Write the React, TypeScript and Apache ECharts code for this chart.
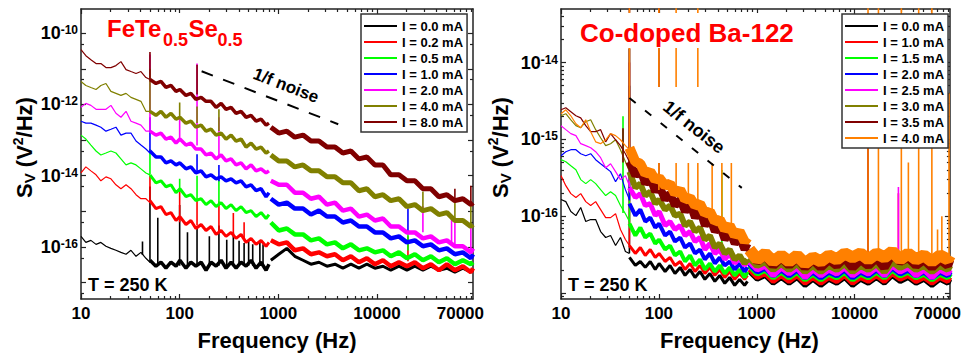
import React, { useEffect, useRef } from "react";
import * as echarts from "echarts";

// ---------- frequency grids (Hz) ----------
const F_LO = [10, 11.2, 12.6, 14.2, 15.9, 17.9, 20.1, 22.6, 25.4, 28.6, 32.1, 36.1, 40.5, 45.5, 50];
const F_MID = [50, 57.5, 64.6, 72.6, 81.6, 91.8, 100.6, 115.8, 130, 146, 165, 185, 208, 234, 263, 295, 332, 373, 419, 471, 529, 595, 668, 751, 804];
const F_HI = [840, 1010, 1220, 1470, 1780, 2140, 2580, 3110, 3750, 4510, 5440, 6560, 7900, 9520, 11500, 13800, 16700, 20100, 24200, 29200, 35200, 42400, 51100, 61600, 74200, 89400, 94000];

// ---------- FeTe0.5Se0.5 (left) S_V values, V^2/Hz ----------
const L00_LO = [1.99e-16, 1.35e-16, 1.54e-16, 1.19e-16, 1.35e-16, 1.05e-16, 9.2e-17, 8.1e-17, 7.1e-17, 6.26e-17, 8.1e-17, 5.5e-17, 7.1e-17, 4.84e-17, 3.75e-17];
const L00_MID = [4.26e-17, 2.9e-17, 3.75e-17, 2.55e-17, 3.75e-17, 2.9e-17, 4.26e-17, 2.55e-17, 3.75e-17, 2.9e-17, 3.75e-17, 2.24e-17, 3.75e-17, 2.9e-17, 4.26e-17, 2.55e-17, 3.75e-17, 2.55e-17, 3.75e-17, 2.9e-17, 4.26e-17, 2.55e-17, 3.75e-17, 2.24e-17, 3.3e-17];
const L00_HI = [4.26e-17, 6.26e-17, 9.2e-17, 5.5e-17, 4.26e-17, 3.3e-17, 3.75e-17, 2.9e-17, 3.3e-17, 2.55e-17, 3.3e-17, 2.55e-17, 3.3e-17, 2.55e-17, 2.9e-17, 2.24e-17, 2.9e-17, 2.24e-17, 2.9e-17, 2.24e-17, 2.9e-17, 2.24e-17, 2.55e-17, 1.97e-17, 2.55e-17, 1.97e-17, 2.24e-17];
const L00_SPK = [[42, 6e-17, 1.44e-16], [50, 3.7e-17, 5e-15], [60, 3e-17, 6.6e-16], [100, 3e-17, 1.5e-15], [120, 3e-17, 2.6e-16], [150, 3e-17, 3.3e-16], [200, 3e-17, 2e-16], [250, 3e-17, 4e-16], [300, 3e-17, 1.6e-16], [350, 3e-17, 2.5e-16], [400, 3e-17, 1.5e-16], [450, 3e-17, 1.3e-16], [500, 3e-17, 1.6e-16], [550, 3e-17, 1.2e-16], [650, 3e-17, 1.3e-16], [700, 3e-17, 1.2e-16]];

const L02_LO = [1.2e-14, 1.77e-14, 1.37e-14, 1.06e-14, 7.21e-15, 9.3e-15, 8.2e-15, 5.58e-15, 4.32e-15, 5.58e-15, 4.32e-15, 2.94e-15, 2.27e-15, 2.27e-15, 1.76e-15];
const L02_MID = [2.0e-15, 1.2e-15, 1.36e-15, 8.15e-16, 9.26e-16, 5.54e-16, 7.16e-16, 4.29e-16, 5.54e-16, 3.32e-16, 4.29e-16, 2.92e-16, 3.77e-16, 2.26e-16, 2.92e-16, 1.99e-16, 2.57e-16, 1.75e-16, 2.26e-16, 1.35e-16, 1.75e-16, 1.19e-16, 1.54e-16, 1.05e-16, 1.35e-16];
const L02_HI = [1.54e-16, 1.19e-16, 1.35e-16, 8.1e-17, 9.2e-17, 6.26e-17, 7.1e-17, 5.5e-17, 6.26e-17, 4.26e-17, 5.5e-17, 3.75e-17, 4.84e-17, 3.3e-17, 4.26e-17, 2.9e-17, 3.75e-17, 2.9e-17, 3.75e-17, 2.55e-17, 3.3e-17, 2.24e-17, 3.3e-17, 2.24e-17, 2.9e-17, 1.97e-17, 2.55e-17];
const L02_SPK = [[50, 1.8e-15, 1e-14], [100, 5e-16, 4.3e-15], [150, 4e-16, 2.3e-15], [250, 2.5e-16, 1.9e-15], [350, 2e-16, 9e-16], [450, 1.6e-16, 5e-16], [20600, 4e-17, 2e-16]];

const L05_LO = [1.38e-13, 1.07e-13, 7.26e-14, 4.94e-14, 3.82e-14, 4.34e-14, 4.94e-14, 4.34e-14, 2.96e-14, 2.01e-14, 2.29e-14, 2.01e-14, 1.56e-14, 1.2e-14, 1.06e-14];
const L05_MID = [1.06e-14, 6.34e-15, 7.21e-15, 4.91e-15, 5.58e-15, 3.34e-15, 4.32e-15, 2.58e-15, 2.94e-15, 2.0e-15, 2.27e-15, 1.55e-15, 2.0e-15, 1.36e-15, 1.76e-15, 1.2e-15, 1.55e-15, 1.05e-15, 1.36e-15, 9.26e-16, 1.05e-15, 7.16e-16, 9.26e-16, 6.3e-16, 8.15e-16];
const L05_HI = [4.88e-16, 2.92e-16, 3.32e-16, 2.26e-16, 2.26e-16, 1.54e-16, 1.75e-16, 1.19e-16, 1.35e-16, 9.2e-17, 1.19e-16, 8.1e-17, 9.2e-17, 7.1e-17, 8.1e-17, 5.5e-17, 7.1e-17, 4.84e-17, 6.26e-17, 4.26e-17, 5.5e-17, 3.75e-17, 4.84e-17, 3.3e-17, 4.26e-17, 3.3e-17, 3.75e-17];
const L05_SPK = [[50, 1.1e-14, 5.6e-14], [100, 3.5e-15, 8.2e-15], [150, 2.2e-15, 1e-14], [250, 1.5e-15, 8e-15], [20600, 8e-17, 3e-16]];

const L10_LO = [3.38e-13, 2.98e-13, 2.98e-13, 2.62e-13, 2.3e-13, 1.78e-13, 2.02e-13, 2.3e-13, 1.38e-13, 1.57e-13, 1.57e-13, 9.4e-14, 7.26e-14, 5.61e-14, 4.34e-14];
const L10_MID = [4.94e-14, 3.36e-14, 3.36e-14, 2.29e-14, 2.6e-14, 2.01e-14, 2.29e-14, 1.56e-14, 1.77e-14, 1.2e-14, 1.37e-14, 9.3e-15, 1.06e-14, 8.2e-15, 9.3e-15, 7.21e-15, 8.2e-15, 6.34e-15, 7.21e-15, 4.91e-15, 5.58e-15, 3.8e-15, 4.32e-15, 2.58e-15, 3.34e-15];
const L10_HI = [2.27e-15, 1.55e-15, 1.76e-15, 1.2e-15, 1.2e-15, 8.15e-16, 1.05e-15, 7.16e-16, 7.16e-16, 4.88e-16, 5.54e-16, 3.77e-16, 3.77e-16, 2.57e-16, 2.57e-16, 1.75e-16, 1.99e-16, 1.35e-16, 1.54e-16, 1.05e-16, 1.19e-16, 8.1e-17, 9.2e-17, 6.26e-17, 7.1e-17, 4.84e-17, 6.26e-17];
const L10_SPK = [[50, 4.3e-14, 4.4e-13], [150, 1.2e-14, 4e-14], [250, 7e-15, 2e-14], [20600, 2.5e-16, 1.2e-15]];

const L20_LO = [8.3e-13, 1.07e-12, 9.4e-13, 7.3e-13, 7.3e-13, 7.3e-13, 9.4e-13, 5.65e-13, 4.37e-13, 6.4e-13, 3.38e-13, 2.98e-13, 2.62e-13, 1.78e-13, 1.78e-13];
const L20_MID = [1.78e-13, 1.38e-13, 1.57e-13, 1.07e-13, 1.21e-13, 8.25e-14, 1.07e-13, 7.26e-14, 8.25e-14, 5.61e-14, 5.61e-14, 3.82e-14, 4.34e-14, 2.96e-14, 3.82e-14, 2.6e-14, 2.96e-14, 2.01e-14, 2.29e-14, 1.56e-14, 2.01e-14, 1.37e-14, 1.56e-14, 1.2e-14, 1.37e-14];
const L20_HI = [7.21e-15, 5.58e-15, 5.58e-15, 3.34e-15, 3.34e-15, 2.27e-15, 2.58e-15, 1.55e-15, 1.76e-15, 1.05e-15, 1.2e-15, 7.16e-16, 8.15e-16, 5.54e-16, 6.3e-16, 3.77e-16, 3.77e-16, 2.57e-16, 2.57e-16, 1.75e-16, 1.99e-16, 1.35e-16, 1.54e-16, 1.05e-16, 1.05e-16, 7.1e-17, 9.2e-17];
const L20_SPK = [[50, 1.8e-13, 2.5e-11], [100, 1.1e-13, 4.0e-13], [150, 7e-14, 1.4e-11], [250, 3.5e-14, 4.4e-13], [29200, 2.6e-16, 1.4e-15], [57000, 1.3e-16, 6.3e-16], [61600, 1.2e-16, 6.3e-16], [89400, 8e-17, 4e-16]];

const L40_LO = [4.4e-12, 3.4e-12, 2.99e-12, 2.63e-12, 3.4e-12, 3.87e-12, 2.32e-12, 2.04e-12, 1.79e-12, 2.04e-12, 1.58e-12, 1.39e-12, 1.22e-12, 6.4e-13, 6.4e-13];
const L40_MID = [6.4e-13, 4.97e-13, 6.4e-13, 4.37e-13, 5.65e-13, 3.85e-13, 4.37e-13, 2.98e-13, 3.38e-13, 2.3e-13, 2.62e-13, 1.78e-13, 2.02e-13, 1.38e-13, 1.57e-13, 1.07e-13, 1.38e-13, 9.4e-14, 1.07e-13, 6.38e-14, 8.25e-14, 5.61e-14, 6.38e-14, 4.34e-14, 4.94e-14];
const L40_HI = [3.82e-14, 2.6e-14, 2.6e-14, 1.77e-14, 2.01e-14, 1.37e-14, 1.37e-14, 9.3e-15, 9.3e-15, 6.34e-15, 6.34e-15, 3.8e-15, 4.32e-15, 2.58e-15, 2.94e-15, 2.0e-15, 2.27e-15, 1.36e-15, 1.55e-15, 1.05e-15, 1.2e-15, 8.15e-16, 9.26e-16, 5.54e-16, 5.54e-16, 3.77e-16, 4.29e-16];
const L40_SPK = [[50, 6.4e-13, 1.0e-11], [100, 4.4e-13, 1.14e-12], [150, 3.0e-13, 8.8e-13], [250, 1.8e-13, 7.3e-13], [29200, 1.1e-15, 3.6e-15], [61600, 5.5e-16, 2.0e-15], [89400, 4e-16, 1.5e-15]];

const L80_LO = [3.43e-11, 2.33e-11, 1.8e-11, 1.4e-11, 1.4e-11, 1.08e-11, 1.08e-11, 1.23e-11, 1.59e-11, 9.5e-12, 8.36e-12, 7.35e-12, 8.36e-12, 5.69e-12, 5.0e-12];
const L80_MID = [5.0e-12, 3.87e-12, 4.4e-12, 2.99e-12, 3.4e-12, 2.32e-12, 2.63e-12, 1.79e-12, 2.04e-12, 1.39e-12, 1.58e-12, 1.22e-12, 1.22e-12, 8.3e-13, 1.07e-12, 7.3e-13, 8.3e-13, 5.65e-13, 6.4e-13, 4.37e-13, 4.97e-13, 3.38e-13, 3.85e-13, 2.62e-13, 2.98e-13];
const L80_HI = [2.3e-13, 1.57e-13, 1.78e-13, 1.21e-13, 1.38e-13, 9.4e-14, 9.4e-14, 6.38e-14, 6.38e-14, 4.34e-14, 4.94e-14, 2.96e-14, 3.36e-14, 2.01e-14, 2.01e-14, 1.06e-14, 1.06e-14, 7.21e-15, 7.21e-15, 4.32e-15, 4.32e-15, 2.58e-15, 2.94e-15, 2.0e-15, 2.27e-15, 1.55e-15, 1.76e-15];
const L80_SPK = [[50, 5e-12, 3.0e-11], [150, 1.9e-12, 1.3e-11], [61600, 2.2e-15, 4.3e-15], [89400, 1.7e-15, 5.2e-15]];

// ---------- Co-doped Ba-122 (right) S_V values, V^2/Hz ----------
const R00_LO = [1.65e-16, 1.55e-16, 1.15e-16, 1.02e-16, 1.3e-16, 8.53e-17, 9.06e-17, 9.06e-17, 6.33e-17, 5.29e-17, 5.61e-17, 4.16e-17, 5.29e-17, 3.48e-17, 3.28e-17];
const R00_MID = [2.91e-17, 2.29e-17, 2.58e-17, 2.16e-17, 2.58e-17, 2.03e-17, 2.43e-17, 1.91e-17, 2.29e-17, 1.8e-17, 2.16e-17, 1.7e-17, 2.03e-17, 1.6e-17, 1.91e-17, 1.51e-17, 1.8e-17, 1.42e-17, 1.7e-17, 1.34e-17, 1.6e-17, 1.26e-17, 1.51e-17, 1.26e-17, 1.42e-17];
const R00_HI = [1.91e-17, 1.51e-17, 1.7e-17, 1.34e-17, 1.6e-17, 1.34e-17, 1.6e-17, 1.26e-17, 1.51e-17, 1.26e-17, 1.51e-17, 1.34e-17, 1.6e-17, 1.26e-17, 1.51e-17, 1.34e-17, 1.6e-17, 1.34e-17, 1.7e-17, 1.42e-17, 1.6e-17, 1.34e-17, 1.51e-17, 1.26e-17, 1.51e-17, 1.34e-17, 1.51e-17];
const R00_SPK = [[50, 3.3e-17, 1.5e-14]];

const R10_LO = [3.38e-16, 2.5e-16, 1.97e-16, 1.75e-16, 1.97e-16, 1.55e-16, 1.38e-16, 1.55e-16, 1.22e-16, 9.6e-17, 9.6e-17, 1.08e-16, 6.72e-17, 4.98e-17, 4.16e-17];
const R10_MID = [4.16e-17, 3.28e-17, 3.92e-17, 3.09e-17, 3.69e-17, 2.91e-17, 3.28e-17, 2.58e-17, 2.91e-17, 2.29e-17, 2.58e-17, 2.03e-17, 2.43e-17, 1.91e-17, 2.29e-17, 1.8e-17, 2.16e-17, 1.7e-17, 2.03e-17, 1.6e-17, 1.91e-17, 1.51e-17, 1.8e-17, 1.51e-17, 1.7e-17];
const R10_HI = [2.03e-17, 1.6e-17, 1.8e-17, 1.42e-17, 1.7e-17, 1.42e-17, 1.7e-17, 1.34e-17, 1.6e-17, 1.34e-17, 1.6e-17, 1.42e-17, 1.7e-17, 1.34e-17, 1.6e-17, 1.42e-17, 1.7e-17, 1.42e-17, 1.8e-17, 1.51e-17, 1.7e-17, 1.42e-17, 1.6e-17, 1.34e-17, 1.6e-17, 1.42e-17, 1.6e-17];
const R10_SPK = [[50, 4e-17, 5e-15], [28000, 1.6e-17, 2.0e-16]];

const R15_LO = [5.45e-16, 5.13e-16, 4.55e-16, 4.04e-16, 3.0e-16, 2.66e-16, 3.0e-16, 2.66e-16, 2.22e-16, 1.86e-16, 2.09e-16, 1.86e-16, 1.38e-16, 1.08e-16, 8.53e-17];
const R15_MID = [8.04e-17, 5.61e-17, 7.13e-17, 5.29e-17, 5.96e-17, 4.42e-17, 4.98e-17, 3.69e-17, 4.16e-17, 3.09e-17, 3.48e-17, 2.58e-17, 3.09e-17, 2.29e-17, 2.74e-17, 2.03e-17, 2.43e-17, 1.91e-17, 2.29e-17, 1.8e-17, 2.16e-17, 1.7e-17, 2.03e-17, 1.6e-17, 1.91e-17];
const R15_HI = [2.29e-17, 1.8e-17, 2.03e-17, 1.6e-17, 1.91e-17, 1.6e-17, 1.91e-17, 1.51e-17, 1.8e-17, 1.51e-17, 1.8e-17, 1.6e-17, 1.91e-17, 1.51e-17, 1.8e-17, 1.6e-17, 1.91e-17, 1.6e-17, 2.03e-17, 1.7e-17, 1.91e-17, 1.6e-17, 1.8e-17, 1.51e-17, 1.8e-17, 1.6e-17, 1.8e-17];
const R15_SPK = [[43, 1.1e-16, 2.0e-15], [50, 8e-17, 5e-15], [440, 2.2e-17, 4.0e-16]];

const R20_LO = [6.14e-16, 6.92e-16, 7.35e-16, 7.35e-16, 6.52e-16, 6.14e-16, 6.52e-16, 5.45e-16, 4.83e-16, 4.29e-16, 3.81e-16, 2.82e-16, 3.58e-16, 2.22e-16, 1.65e-16];
const R20_MID = [1.46e-16, 1.02e-16, 1.22e-16, 8.53e-17, 9.6e-17, 7.13e-17, 8.04e-17, 5.61e-17, 6.33e-17, 4.69e-17, 5.29e-17, 3.92e-17, 4.42e-17, 3.28e-17, 3.69e-17, 2.74e-17, 3.28e-17, 2.43e-17, 2.91e-17, 2.29e-17, 2.58e-17, 2.03e-17, 2.43e-17, 1.91e-17, 2.16e-17];
const R20_HI = [2.43e-17, 1.91e-17, 2.16e-17, 1.7e-17, 2.03e-17, 1.7e-17, 2.03e-17, 1.6e-17, 1.91e-17, 1.6e-17, 1.91e-17, 1.7e-17, 2.03e-17, 1.6e-17, 1.91e-17, 1.7e-17, 2.03e-17, 1.7e-17, 2.16e-17, 1.8e-17, 2.03e-17, 1.7e-17, 1.91e-17, 1.6e-17, 1.91e-17, 1.7e-17, 1.91e-17];
const R20_SPK = [[50, 1.6e-16, 5e-15]];

const R25_LO = [1.51e-15, 1.34e-15, 1.19e-15, 1.12e-15, 8.8e-16, 8.3e-16, 7.8e-16, 6.92e-16, 5.79e-16, 4.29e-16, 4.83e-16, 3.81e-16, 3.0e-16, 3.38e-16, 2.5e-16];
const R25_MID = [2.36e-16, 1.75e-16, 1.97e-16, 1.38e-16, 1.46e-16, 1.02e-16, 1.15e-16, 7.57e-17, 8.53e-17, 6.72e-17, 7.57e-17, 5.61e-17, 6.33e-17, 4.69e-17, 5.29e-17, 3.69e-17, 4.42e-17, 3.28e-17, 3.69e-17, 2.74e-17, 3.28e-17, 2.43e-17, 2.91e-17, 2.29e-17, 2.58e-17];
const R25_HI = [2.58e-17, 2.03e-17, 2.29e-17, 1.7e-17, 2.16e-17, 1.8e-17, 2.16e-17, 1.6e-17, 2.03e-17, 1.7e-17, 2.03e-17, 1.8e-17, 2.16e-17, 1.7e-17, 2.03e-17, 1.8e-17, 2.16e-17, 1.7e-17, 2.29e-17, 1.91e-17, 2.16e-17, 1.7e-17, 2.03e-17, 1.6e-17, 2.03e-17, 1.8e-17, 2.03e-17];
const R25_SPK = [[50, 2.4e-16, 1e-14], [13700, 2e-17, 2e-15], [28000, 2e-17, 2.4e-16]];

const R30_LO = [2.03e-15, 2.16e-15, 1.8e-15, 1.51e-15, 1.42e-15, 1.7e-15, 1.8e-15, 1.34e-15, 1.05e-15, 8.3e-16, 8.8e-16, 9.9e-16, 7.35e-16, 5.13e-16, 3.81e-16];
const R30_MID = [3.81e-16, 2.36e-16, 2.66e-16, 1.86e-16, 2.09e-16, 1.46e-16, 1.65e-16, 1.22e-16, 1.38e-16, 1.02e-16, 1.08e-16, 7.57e-17, 8.53e-17, 6.33e-17, 7.13e-17, 4.98e-17, 5.61e-17, 3.92e-17, 4.42e-17, 3.28e-17, 3.69e-17, 2.74e-17, 3.09e-17, 2.43e-17, 2.74e-17];
const R30_HI = [2.91e-17, 2.29e-17, 2.58e-17, 2.03e-17, 2.43e-17, 2.03e-17, 2.43e-17, 1.91e-17, 2.29e-17, 1.91e-17, 2.29e-17, 2.03e-17, 2.43e-17, 1.91e-17, 2.29e-17, 2.03e-17, 2.43e-17, 1.91e-17, 2.58e-17, 2.16e-17, 2.43e-17, 2.03e-17, 2.29e-17, 1.91e-17, 2.29e-17, 2.03e-17, 2.29e-17];
const R30_SPK = [[50, 4e-16, 1e-14]];

const R35_LO = [2.43e-15, 2.58e-15, 2.29e-15, 2.03e-15, 1.91e-15, 1.51e-15, 1.26e-15, 1.26e-15, 1.34e-15, 9.3e-16, 1.19e-15, 9.9e-16, 8.3e-16, 6.52e-16, 5.13e-16];
const R35_MID = [5.13e-16, 3.38e-16, 4.04e-16, 2.66e-16, 3.18e-16, 2.09e-16, 2.5e-16, 1.65e-16, 1.97e-16, 1.38e-16, 1.65e-16, 1.15e-16, 1.46e-16, 9.6e-17, 1.22e-16, 7.57e-17, 9.6e-17, 6.33e-17, 7.57e-17, 4.98e-17, 6.33e-17, 4.42e-17, 5.29e-17, 3.69e-17, 4.42e-17];
const R35_HI = [3.69e-17, 2.58e-17, 3.09e-17, 2.29e-17, 2.91e-17, 2.29e-17, 2.91e-17, 2.16e-17, 2.74e-17, 2.16e-17, 2.74e-17, 2.29e-17, 2.91e-17, 2.16e-17, 2.74e-17, 2.29e-17, 2.91e-17, 2.16e-17, 3.28e-17, 2.58e-17, 2.91e-17, 2.29e-17, 2.74e-17, 2.16e-17, 2.74e-17, 2.29e-17, 2.74e-17];
const R35_SPK = [[43, 5e-16, 1.4e-15], [50, 5e-16, 1e-13], [100, 2e-16, 1e-13], [13700, 3e-17, 8.1e-16]];

const R40_LO = [2.16e-15, 2.43e-15, 2.03e-15, 1.6e-15, 1.42e-15, 1.8e-15, 1.26e-15, 9.3e-16, 8.8e-16, 9.9e-16, 1.19e-15, 1.12e-15, 9.9e-16, 8.3e-16, 7.35e-16];
const R40_MID = [7.8e-16, 5.13e-16, 4.83e-16, 3.58e-16, 3.81e-16, 2.98e-16, 3.18e-16, 2.5e-16, 2.66e-16, 1.97e-16, 2.22e-16, 1.65e-16, 1.75e-16, 1.38e-16, 1.46e-16, 1.08e-16, 1.15e-16, 8.53e-17, 9.06e-17, 6.72e-17, 7.57e-17, 5.61e-17, 6.33e-17, 4.69e-17, 5.29e-17];
const R40_HI = [3.69e-17, 2.74e-17, 3.28e-17, 2.58e-17, 3.09e-17, 2.58e-17, 3.09e-17, 2.43e-17, 2.91e-17, 2.58e-17, 3.09e-17, 2.74e-17, 3.28e-17, 2.91e-17, 3.28e-17, 2.74e-17, 3.28e-17, 2.91e-17, 3.48e-17, 2.74e-17, 3.28e-17, 2.74e-17, 3.09e-17, 2.58e-17, 3.09e-17, 2.74e-17, 3.09e-17];
const R40_SPK = [[50, 7.4e-16, 1e-13], [100, 2.2e-16, 1e-13], [150, 1.9e-16, 1e-13], [200, 1.5e-16, 1.8e-15], [250, 1.2e-16, 1e-13], [350, 9e-17, 1.8e-15], [440, 7e-17, 1.8e-15], [550, 6e-17, 1.8e-15], [13700, 3e-17, 1e-13], [17500, 3e-17, 1e-13], [30000, 3e-17, 1e-13], [35400, 3e-17, 5e-16], [45100, 3e-17, 1e-13], [61500, 3e-17, 1e-13], [70300, 3e-17, 6.7e-17], [77800, 3e-17, 1.0e-16], [92000, 3e-17, 4.0e-15]];

// 1/f guide lines [f, S]
const L_GUIDE = [[167, 8.5e-12], [4050, 2.79e-13]];
const R_GUIDE = [[50, 3.45e-15], [703, 2.34e-16]];

// legend labels
const LEFT_NAMES = ["I = 0.0 mA", "I = 0.2 mA", "I = 0.5 mA", "I = 1.0 mA", "I = 2.0 mA", "I = 4.0 mA", "I = 8.0 mA"];
const RIGHT_NAMES = ["I = 0.0 mA", "I = 1.0 mA", "I = 1.5 mA", "I = 2.0 mA", "I = 2.5 mA", "I = 3.0 mA", "I = 3.5 mA", "I = 4.0 mA"];

// axis ticks
const X_MIN = 10, X_MAX = 94000;
const X_LABELS = [10, 100, 1000, 10000, 70000];
const X_MAJOR = [10, 100, 1000, 10000];
const LY_MIN = 3.49e-18, LY_MAX = 4.75e-10;
const LY_LABELS = [1e-16, 1e-14, 1e-12, 1e-10];
const LY_MAJOR = [1e-17, 1e-16, 1e-15, 1e-14, 1e-13, 1e-12, 1e-11, 1e-10];
const RY_MIN = 8.38e-18, RY_MAX = 4.98e-14;
const RY_LABELS = [1e-16, 1e-15, 1e-14];
const RY_MAJOR = [1e-17, 1e-16, 1e-15, 1e-14];

// ---------- styles ----------
const FONT = '"Liberation Sans", Arial, Helvetica, sans-serif';
const LEFT_COLORS = ["#000000", "#ff0000", "#00ff00", "#0000ff", "#ff00ff", "#808000", "#800000"];
const RIGHT_COLORS = ["#000000", "#ff0000", "#00ff00", "#0000ff", "#ff00ff", "#808000", "#800000", "#ff8000"];
const LEFT_W = [[1.2, 3.5, 3], [1.2, 3, 4.5], [1.2, 3, 4.5], [1.2, 3.5, 4.5], [1.2, 3.5, 4.5], [1.2, 3.5, 5], [1.2, 3.5, 5]];
const RIGHT_W = [[1.2, 3, 5], [1.2, 3, 5], [1.2, 4, 6], [1.2, 4, 6], [1.2, 5, 6], [1.2, 6, 7], [1.2, 8, 9], [1.2, 10, 12]];
const AX = "#222";
const SUFFIX = "\u200b";

function minorVals(lo: number, hi: number, ks: number[]) {
  const out: number[] = [];
  for (let e = Math.floor(Math.log10(lo)) - 1; e <= Math.ceil(Math.log10(hi)); e++) {
    for (const k of ks) {
      const v = k * Math.pow(10, e);
      if (v > lo && v < hi) out.push(v);
    }
  }
  return out;
}

function curveSeries(xi: number, yi: number, name: string, color: string, lo: number[], mid: number[], hi: number[], spk: number[][], w: number[]) {
  const base = { type: "line", name, xAxisIndex: xi, yAxisIndex: yi, symbol: "none", showSymbol: false, silent: true, animation: false, color, itemStyle: { color } };
  const spikeData: any[] = [];
  spk.forEach((s) => {
    spikeData.push([s[0], s[1]], [s[0], s[2]], [s[0], "-"]);
  });
  return [
    { ...base, data: F_LO.map((f, i) => [f, lo[i]]), lineStyle: { color, width: w[0] } },
    { ...base, data: F_MID.map((f, i) => [f, mid[i]]), lineStyle: { color, width: w[1] } },
    { ...base, data: F_HI.map((f, i) => [f, hi[i]]), lineStyle: { color, width: w[2] } },
    { ...base, data: spikeData, connectNulls: false, lineStyle: { color, width: 1.6 } },
  ];
}

function xAxes(grid: number, namePad: number[]) {
  const base = { gridIndex: grid, type: "log", logBase: 10, min: X_MIN, max: X_MAX, splitLine: { show: false }, axisPointer: { show: false } };
  const tl = { color: AX, width: 1.2 };
  const minor = minorVals(X_MIN, X_MAX, [2, 3, 4, 5, 6, 7, 8, 9]);
  return [
    {
      ...base, position: "bottom",
      axisLine: { show: true, onZero: false, lineStyle: { color: AX, width: 1.5 } },
      axisTick: { show: true, inside: true, length: 5, customValues: X_MAJOR, lineStyle: tl },
      axisLabel: { show: true, customValues: X_LABELS, formatter: (v: number) => String(Math.round(v)), color: "#000", fontFamily: FONT, fontWeight: "bold", fontSize: 17, margin: 6 },
      name: "Frequency (Hz)", nameLocation: "middle", nameGap: 30,
      nameTextStyle: { color: "#000", fontFamily: FONT, fontWeight: "bold", fontSize: 22, padding: namePad },
    },
    { ...base, position: "bottom", axisLine: { show: false }, axisTick: { show: true, inside: true, length: 3, customValues: minor, lineStyle: tl }, axisLabel: { show: false } },
    { ...base, position: "top", axisLine: { show: true, onZero: false, lineStyle: { color: AX, width: 1.5 } }, axisTick: { show: true, inside: true, length: 5, customValues: X_MAJOR, lineStyle: tl }, axisLabel: { show: false } },
    { ...base, position: "top", axisLine: { show: false }, axisTick: { show: true, inside: true, length: 3, customValues: minor, lineStyle: tl }, axisLabel: { show: false } },
  ];
}

function yAxes(grid: number, min: number, max: number, labels: number[], major: number[], minor: number[]) {
  const base = { gridIndex: grid, type: "log", logBase: 10, min, max, splitLine: { show: false }, axisPointer: { show: false } };
  const tl = { color: AX, width: 1.2 };
  return [
    {
      ...base, position: "left",
      axisLine: { show: true, onZero: false, lineStyle: { color: AX, width: 1.5 } },
      axisTick: { show: true, inside: true, length: 5, customValues: major, lineStyle: tl },
      axisLabel: {
        show: true, customValues: labels, margin: 3,
        formatter: (v: number) => `{b|10}{s|${Math.round(Math.log10(v))}}`,
        rich: {
          b: { fontSize: 18, fontWeight: "bold", fontFamily: FONT, color: "#000", lineHeight: 18, padding: [6, 0, 0, 0], verticalAlign: "bottom" },
          s: { fontSize: 12, fontWeight: "bold", fontFamily: FONT, color: "#000", lineHeight: 12, verticalAlign: "top" },
        },
      },
    },
    { ...base, position: "left", axisLine: { show: false }, axisTick: { show: true, inside: true, length: 3, customValues: minor, lineStyle: tl }, axisLabel: { show: false } },
    { ...base, position: "right", axisLine: { show: true, onZero: false, lineStyle: { color: AX, width: 1.5 } }, axisTick: { show: true, inside: true, length: 5, customValues: major, lineStyle: tl }, axisLabel: { show: false } },
    { ...base, position: "right", axisLine: { show: false }, axisTick: { show: true, inside: true, length: 3, customValues: minor, lineStyle: tl }, axisLabel: { show: false } },
  ];
}

function txt(x: number, y: number, text: string, size: number, color: string, align: string, rotation = 0, z = 101) {
  return {
    type: "text", x, y, rotation, z, silent: true,
    style: { text, fill: color, fontFamily: FONT, fontWeight: "bold", fontSize: size, align, verticalAlign: "middle", textAlign: align, textVerticalAlign: "middle" },
  };
}

// rotated "S_V (V^2/Hz)" built from pieces; reading upward from yStart
function yTitle(x: number, yStart: number) {
  const R = Math.PI / 2;
  return [
    txt(x, yStart, "S", 22, "#000", "left", R),
    txt(x + 5, yStart - 14.7, "V", 15, "#000", "left", R),
    txt(x, yStart - 24.7, " (V", 22, "#000", "left", R),
    txt(x - 7, yStart - 52.8, "2", 14, "#000", "left", R),
    txt(x, yStart - 60.6, "/Hz)", 22, "#000", "left", R),
  ];
}

function legendOpt(left: number, names: string[], colors: string[]) {
  return {
    data: names.map((n, i) => ({ name: n, icon: "rect", itemStyle: { color: colors[i] } })),
    left, top: 14, orient: "vertical", itemWidth: 33, itemHeight: 1.8, itemGap: 2,
    icon: "rect",
    padding: [5, 4, 3, 3], backgroundColor: "#fff", borderColor: "#333", borderWidth: 1.5, borderRadius: 0,
    selectedMode: false, z: 20,
    formatter: (n: string) => n.replace(/\u200b/g, ""),
    textStyle: { color: "#000", fontFamily: FONT, fontWeight: "bold", fontSize: 13, lineHeight: 14, height: 14 },
  };
}

function buildOption() {
  const series: any[] = [];
  const L = [
    [L00_LO, L00_MID, L00_HI, L00_SPK], [L02_LO, L02_MID, L02_HI, L02_SPK], [L05_LO, L05_MID, L05_HI, L05_SPK],
    [L10_LO, L10_MID, L10_HI, L10_SPK], [L20_LO, L20_MID, L20_HI, L20_SPK], [L40_LO, L40_MID, L40_HI, L40_SPK],
    [L80_LO, L80_MID, L80_HI, L80_SPK],
  ];
  L.forEach((c: any, i) => series.push(...curveSeries(0, 0, LEFT_NAMES[i], LEFT_COLORS[i], c[0], c[1], c[2], c[3], LEFT_W[i])));
  const R = [
    [R00_LO, R00_MID, R00_HI, R00_SPK], [R10_LO, R10_MID, R10_HI, R10_SPK], [R15_LO, R15_MID, R15_HI, R15_SPK],
    [R20_LO, R20_MID, R20_HI, R20_SPK], [R25_LO, R25_MID, R25_HI, R25_SPK], [R30_LO, R30_MID, R30_HI, R30_SPK],
    [R35_LO, R35_MID, R35_HI, R35_SPK], [R40_LO, R40_MID, R40_HI, R40_SPK],
  ];
  R.forEach((c: any, i) => series.push(...curveSeries(4, 4, RIGHT_NAMES[i] + SUFFIX, RIGHT_COLORS[i], c[0], c[1], c[2], c[3], RIGHT_W[i])));
  series.push({ type: "line", xAxisIndex: 0, yAxisIndex: 0, data: L_GUIDE, symbol: "none", silent: true, z: 200, lineStyle: { color: "#000", width: 2, type: [12, 11] } });
  series.push({ type: "line", xAxisIndex: 4, yAxisIndex: 4, data: R_GUIDE, symbol: "none", silent: true, z: 200, lineStyle: { color: "#000", width: 2, type: [8, 12] } });

  return {
    animation: false,
    backgroundColor: "#ffffff",
    grid: [
      { left: 81, top: 9, width: 392, height: 292, show: false },
      { left: 561, top: 9, width: 392, height: 292, show: false },
    ],
    xAxis: [...xAxes(0, [0, 0, 0, 0]), ...xAxes(1, [0, 32, 0, 0])],
    yAxis: [
      ...yAxes(0, LY_MIN, LY_MAX, LY_LABELS, LY_MAJOR, minorVals(LY_MIN, LY_MAX, [5])),
      ...yAxes(1, RY_MIN, RY_MAX, RY_LABELS, RY_MAJOR, minorVals(RY_MIN, RY_MAX, [2, 3, 4, 5, 6, 7, 8, 9])),
    ],
    legend: [legendOpt(361, LEFT_NAMES, LEFT_COLORS), legendOpt(842, RIGHT_NAMES.map((n) => n + SUFFIX), RIGHT_COLORS)],
    series,
    graphic: [
      { type: "rect", shape: { x: 105, y: 13, width: 140, height: 39 }, style: { fill: "#fff" }, z: 100, silent: true },
      txt(107, 28.3, "FeTe", 24, "#ff0000", "left"),
      txt(163, 40, "0.5", 18, "#ff0000", "left"),
      txt(188.5, 28.3, "Se", 24, "#ff0000", "left"),
      txt(217.5, 40, "0.5", 18, "#ff0000", "left"),
      { type: "rect", shape: { x: 577, y: 13, width: 218, height: 35 }, style: { fill: "#fff" }, z: 100, silent: true },
      txt(580, 32.5, "Co-doped Ba-122", 26, "#ff0000", "left"),
      { type: "rect", shape: { x: 655, y: 87, width: 85, height: 76 }, style: { fill: "#fff" }, z: 100, silent: true },
      txt(286, 85.5, "1/f noise", 17, "#000", "center", -0.37),
      txt(694, 127, "1/f noise", 18, "#000", "center", -0.672),
      txt(88, 285, "T = 250 K", 18, "#000", "left"),
      txt(568, 285, "T = 250 K", 18, "#000", "left"),
      ...yTitle(24.5, 198),
      ...yTitle(500, 198),
    ],
  };
}

export default function App() {
  const ref = useRef<HTMLDivElement>(null);
  useEffect(() => {
    document.body.style.margin = "0";
    if (!ref.current) return;
    const chart = echarts.init(ref.current, null, { renderer: "svg" });
    chart.setOption(buildOption() as any);
    return () => chart.dispose();
  }, []);
  return <div ref={ref} style={{ width: 964, height: 356, background: "#fff" }} />;
}
